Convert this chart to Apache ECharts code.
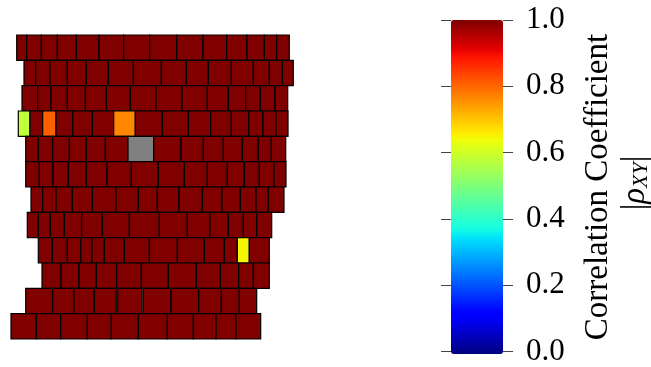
<!DOCTYPE html>
<html><head><meta charset="utf-8">
<script src="https://cdn.jsdelivr.net/npm/echarts@6/dist/echarts.min.js"></script>
<style>html,body{margin:0;padding:0;background:#fff}#c{width:651px;height:367px}</style>
</head><body><div id="c"></div>
<script>
// Cell edges per course (row), top to bottom
const rowEdges = [
  [16.7, 26.7, 41.3, 57.3, 76.3, 99, 123.7, 149.7, 176.7, 203, 226.7, 247, 264.3, 276.7, 289.3],
  [24, 35.7, 50, 67.3, 86.3, 108.3, 133.3, 161.3, 186.3, 208.3, 231.3, 253.3, 269.3, 282.3, 293.3],
  [22, 37.7, 51, 67.3, 85.3, 106.3, 130.3, 156, 182, 207.3, 228.3, 245.7, 260.3, 275, 287.7],
  [18.3, 30, 42.7, 56, 72.7, 92.3, 113.7, 135.3, 162.3, 188.3, 210.7, 231.3, 248.7, 263, 276, 288],
  [25.7, 38.3, 52.7, 69.3, 86.3, 105.3, 128, 153.7, 181, 203.3, 223.3, 242.3, 258.3, 271.3, 285.7],
  [25.7, 39.3, 53, 68.3, 86.3, 107, 131.3, 158.3, 184.3, 207.3, 227.3, 244.3, 259.3, 274, 286],
  [31, 42.7, 56, 72.3, 92.3, 116, 138.3, 157.3, 179, 202.3, 222, 240.3, 256, 268.3, 284],
  [27.3, 38.3, 50.3, 64.3, 81.7, 102.3, 129.3, 159.3, 187.3, 210, 228.3, 243.3, 256.7, 271.7],
  [38.3, 52.3, 67.3, 80.7, 92, 104.3, 124.3, 149.3, 177.3, 204.3, 224.3, 237.3, 249.3, 269.3],
  [42, 61, 79, 96.3, 116.7, 141.3, 168.3, 196.3, 220.3, 238.7, 253.3, 269.3],
  [25.7, 52.7, 74, 94.3, 116.3, 117.7, 142, 143, 171, 198.7, 221.3, 239.3, 256.7],
  [11, 36.3, 60.7, 87.3, 111.3, 138.3, 167.3, 193.3, 216, 236, 260.7]
];
// |rho_XY| per cell (NaN = no value, null = gap between cells)
const rowValues = [
  [1, 1, 1, 1, 1, 1, 1, 1, 1, 1, 1, 1, 1, 1],
  [1, 1, 1, 1, 1, 1, 1, 1, 1, 1, 1, 1, 1, 1],
  [1, 1, 1, 1, 1, 1, 1, 1, 1, 1, 1, 1, 1, 1],
  [0.585, 1, 0.807, 1, 1, 1, 0.767, 1, 1, 1, 1, 1, 1, 1, 1],
  [1, 1, 1, 1, 1, 1, NaN, 1, 1, 1, 1, 1, 1, 1],
  [1, 1, 1, 1, 1, 1, 1, 1, 1, 1, 1, 1, 1, 1],
  [1, 1, 1, 1, 1, 1, 1, 1, 1, 1, 1, 1, 1, 1],
  [1, 1, 1, 1, 1, 1, 1, 1, 1, 1, 1, 1, 1],
  [1, 1, 1, 1, 1, 1, 1, 1, 1, 1, 1, 0.65, 1],
  [1, 1, 1, 1, 1, 1, 1, 1, 1, 1, 1],
  [1, 1, 1, 1, null, 1, null, 1, 1, 1, 1, 1],
  [1, 1, 1, 1, 1, 1, 1, 1, 1, 1]
];
const cbarTicks = [0, 0.2, 0.4, 0.6, 0.8, 1.0];
const cbarTitle = 'Correlation Coefficient';

// jet colormap (matplotlib segment data)
function seg(pts, v){for(let i=1;i<pts.length;i++){if(v<=pts[i][0]){const a=pts[i-1],b=pts[i];return a[1]+(b[1]-a[1])*(v-a[0])/(b[0]-a[0]);}}return pts[pts.length-1][1];}
const R=[[0,0],[0.35,0],[0.66,1],[0.89,1],[1,0.5]], G=[[0,0],[0.125,0],[0.375,1],[0.64,1],[0.91,0],[1,0]], B=[[0,0.5],[0.11,1],[0.34,1],[0.65,0],[1,0]];
const jet=[];for(let i=0;i<=128;i++){const v=i/128;const h=x=>Math.round(x*255).toString(16).padStart(2,'0');jet.push('#'+h(seg(R,v))+h(seg(G,v))+h(seg(B,v)));}

const data=[];
rowEdges.forEach((e,r)=>{rowValues[r].forEach((v,i)=>{if(v===null)return;data.push([e[i],e[i+1],r,v]);});});

const chart=echarts.init(document.getElementById('c'),null,{renderer:'canvas'});
chart.setOption({
  animation:false,
  grid:[{left:0,top:35,width:300,height:304},{left:451,top:20,width:52,height:334}],
  xAxis:[{gridIndex:0,type:'value',min:0,max:300,show:false},{gridIndex:1,type:'value',min:0,max:1,show:false}],
  yAxis:[
    {gridIndex:0,type:'value',min:0,max:12,inverse:true,show:false},
    {gridIndex:1,type:'value',min:0,max:1,interval:0.2,position:'left',axisLine:{show:false},splitLine:{show:false},
     axisTick:{show:true,length:10,lineStyle:{color:'#444',width:1}},axisLabel:{show:false}},
    {gridIndex:1,type:'value',min:0,max:1,interval:0.2,position:'right',axisLine:{show:false},splitLine:{show:false},
     axisTick:{show:true,length:10,lineStyle:{color:'#444',width:1}},
     axisLabel:{show:true,margin:23,color:'#000',fontFamily:'Liberation Serif',fontSize:31,formatter:v=>cbarTicks.indexOf(Math.round(v*10)/10)>=0?v.toFixed(1):''}}
  ],
  visualMap:{type:'continuous',seriesIndex:0,dimension:3,min:0,max:1,calculable:false,orient:'vertical',
    left:451,top:20,itemWidth:52,itemHeight:334,padding:0,text:null,hoverLink:false,inRange:{color:jet}},
  series:[{type:'custom',xAxisIndex:0,yAxisIndex:0,data:data,
    renderItem:function(params,api){
      const x0=api.value(0),x1=api.value(1),r=api.value(2),v=api.value(3);
      const p0=api.coord([x0,r]),p1=api.coord([x1,r+1]);
      const fill=isNaN(v)?'#808080':api.visual('color');
      return {type:'rect',shape:{x:p0[0],y:p0[1],width:p1[0]-p0[0],height:p1[1]-p0[1]},style:{fill:fill,stroke:'#000',lineWidth:1.2}};
    }}],
  graphic:[
    {type:'text',x:598,y:187,rotation:Math.PI/2,style:{text:cbarTitle,fontFamily:'Liberation Serif',fontSize:33,fill:'#000',align:'center',verticalAlign:'middle'}},
    {type:'text',x:635,y:183,rotation:Math.PI/2,style:{text:'{n||}{i|ρ}{s|XY}{n||}',align:'center',verticalAlign:'middle',
      rich:{n:{fontFamily:'Liberation Serif',fontSize:33,fill:'#000'},i:{fontFamily:'Liberation Serif',fontStyle:'italic',fontSize:33,fill:'#000'},
            s:{fontFamily:'Liberation Serif',fontStyle:'italic',fontSize:22,fill:'#000',verticalAlign:'bottom',padding:[12,0,0,0]}}}}
  ]
});
</script></body></html>
